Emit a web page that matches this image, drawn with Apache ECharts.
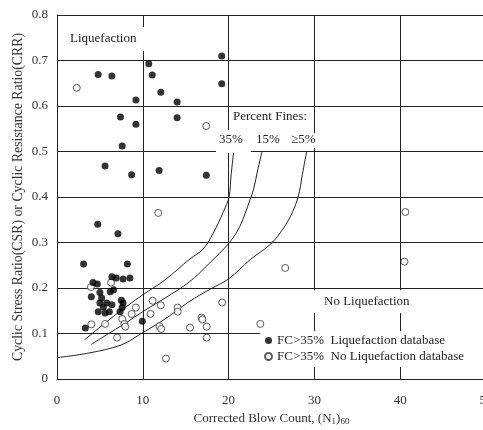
<!DOCTYPE html>
<html>
<head>
<meta charset="utf-8">
<script src="https://cdn.jsdelivr.net/npm/echarts@6/dist/echarts.min.js"></script>
<style>html,body{margin:0;padding:0;background:#fff}#c{width:483px;height:430px}</style>
</head>
<body>
<div id="c"></div>
<script>
// Liquefaction database (filled) points: [ (N1)60 , CSR ]
const liqPoints = [
  [4.8,0.669],[6.4,0.666],[10.7,0.693],[11.1,0.668],[12.1,0.630],[14.0,0.609],[14.0,0.574],
  [19.2,0.710],[19.2,0.649],[9.2,0.613],[7.4,0.576],[9.2,0.560],[7.6,0.512],[5.6,0.468],
  [8.7,0.449],[11.9,0.458],[17.4,0.448],[4.75,0.340],[7.1,0.319],[3.1,0.253],[8.2,0.253],
  [3.3,0.112],[9.95,0.127],
  [6.4,0.225],[6.9,0.222],[7.7,0.220],[8.5,0.222],[4.2,0.212],[4.7,0.209],[4.0,0.181],
  [5.0,0.190],[5.2,0.178],[6.2,0.192],[6.6,0.196],[5.0,0.167],[5.8,0.167],[6.4,0.163],
  [7.5,0.173],[7.7,0.167],[4.8,0.148],[5.6,0.145],[6.1,0.148],[7.35,0.148],[5.4,0.158],[7.6,0.157]
];
// No liquefaction database (open) points
const noLiqPoints = [
  [2.3,0.640],[17.4,0.556],[11.8,0.365],[40.6,0.367],[40.5,0.258],[26.6,0.244],[3.95,0.202],
  [6.3,0.212],[4.0,0.120],[5.6,0.121],[7.0,0.091],[7.6,0.132],[7.85,0.121],[7.95,0.115],
  [8.7,0.143],[9.2,0.157],[10.9,0.143],[11.15,0.172],[12.1,0.162],[11.95,0.116],[12.15,0.110],
  [12.7,0.045],[14.05,0.157],[14.07,0.148],[15.5,0.113],[16.85,0.135],[16.95,0.131],
  [17.45,0.115],[17.45,0.091],[19.25,0.168],[23.7,0.121]
];
// CRR boundary curves by percent fines
const curve35 = [[3.2,0.086],[5.6,0.123],[8,0.158],[10,0.185],[12.6,0.218],[15.5,0.264],[17,0.285],[18.2,0.32],[19.4,0.368],[20.05,0.40],[20.3,0.45],[20.6,0.5]];
const curve15 = [[4.0,0.076],[5.6,0.095],[8,0.123],[10,0.148],[12.6,0.178],[15.4,0.213],[17.8,0.255],[20.05,0.299],[21.3,0.335],[22.5,0.394],[22.9,0.416],[23.4,0.46],[23.9,0.5]];
const curve5 = [[0,0.047],[3.7,0.057],[7.5,0.075],[10,0.102],[12.6,0.132],[15.4,0.170],[17.9,0.198],[20,0.22],[22.5,0.262],[24.8,0.295],[26,0.321],[27.2,0.357],[28.1,0.40],[28.6,0.45],[29.1,0.5]];

const FONT = 'Liberation Serif';
const chart = echarts.init(document.getElementById('c'));
const lineSeries = (d) => ({
  type: 'line', data: d, showSymbol: false, smooth: 0.35, silent: true,
  lineStyle: { color: '#222', width: 1 }, z: 3
});
chart.setOption({
  animation: false,
  backgroundColor: '#fff',
  textStyle: { fontFamily: FONT },
  grid: { left: 57, top: 15, right: -3, bottom: 51, outerBoundsMode: 'none', containLabel: false },
  xAxis: {
    type: 'value', min: 0, max: 50, interval: 10,
    axisLine: { show: true, lineStyle: { color: '#222', width: 1 } },
    axisTick: { show: false },
    splitLine: { show: true, lineStyle: { color: '#222', width: 1 } },
    axisLabel: { color: '#333', fontSize: 13, fontFamily: FONT, margin: 15 },
    name: '{a|Corrected Blow Count, (N}{s|1}{a|)}{s|60}',
    nameLocation: 'middle', nameGap: 30,
    nameTextStyle: {
      rich: {
        a: { fontFamily: FONT, fontSize: 13, color: '#333', lineHeight: 16 },
        s: { fontFamily: FONT, fontSize: 9, color: '#333', verticalAlign: 'bottom', lineHeight: 12 }
      }
    }
  },
  yAxis: {
    type: 'value', min: 0, max: 0.8, interval: 0.1,
    axisLine: { show: true, lineStyle: { color: '#222', width: 1 } },
    axisTick: { show: false },
    splitLine: { show: true, lineStyle: { color: '#222', width: 1 } },
    axisLabel: { color: '#333', fontSize: 13, fontFamily: FONT, margin: 9,
      formatter: v => v === 0 ? '0' : v.toFixed(1) },
    name: 'Cyclic Stress Ratio(CSR) or Cyclic Resistance Ratio(CRR)',
    nameLocation: 'middle', nameGap: 32, nameMoveOverlap: false,
    nameTextStyle: { fontFamily: FONT, fontSize: 13.8, color: '#333' }
  },
  legend: {
    orient: 'vertical', left: 260, top: 331,
    backgroundColor: '#fff', padding: [3, 26, 4, 4], itemGap: 3,
    itemWidth: 7, itemHeight: 7,
    textStyle: { fontFamily: FONT, fontSize: 13, color: '#222' },
    data: ['FC>35%  Liquefaction database', 'FC>35%  No Liquefaction database']
  },
  series: [
    lineSeries(curve35), lineSeries(curve15), lineSeries(curve5),
    { name: 'FC>35%  Liquefaction database', type: 'scatter', data: liqPoints, symbol: 'circle', symbolSize: 7,
      itemStyle: { color: '#000' }, z: 5 },
    { name: 'FC>35%  No Liquefaction database', type: 'scatter', data: noLiqPoints, symbol: 'circle', symbolSize: 7,
      itemStyle: { color: '#fff', borderColor: '#333', borderWidth: 1 }, z: 4 }
  ],
  graphic: [
    { type: 'text', left: 62, top: 27, z: 100,
      style: { text: 'Liquefaction', font: '13px ' + FONT, fill: '#222', backgroundColor: '#fff', padding: [5, 8, 6, 8] } },
    { type: 'text', left: 230, top: 107, z: 100,
      style: { text: 'Percent Fines:', font: '13px ' + FONT, fill: '#222', backgroundColor: '#fff', padding: [3, 6, 4, 3] } },
    { type: 'text', left: 216, top: 130, z: 100,
      style: { text: '35%', font: '13px ' + FONT, fill: '#222', backgroundColor: '#fff', padding: [3, 8, 7, 3] } },
    { type: 'text', left: 255, top: 133, z: 100,
      style: { text: '15%', font: '13px ' + FONT, fill: '#222', backgroundColor: '#fff', padding: [0, 2, 2, 1] } },
    { type: 'text', left: 290, top: 133, z: 100,
      style: { text: '≥5%', font: '13px ' + FONT, fill: '#222', backgroundColor: '#fff', padding: [0, 3, 2, 1] } },
    { type: 'text', left: 312, top: 290, z: 100,
      style: { text: 'No Liquefaction', font: '13px ' + FONT, fill: '#222', backgroundColor: '#fff', padding: [5, 5, 5, 12] } }
  ]
});
</script>
</body>
</html>
